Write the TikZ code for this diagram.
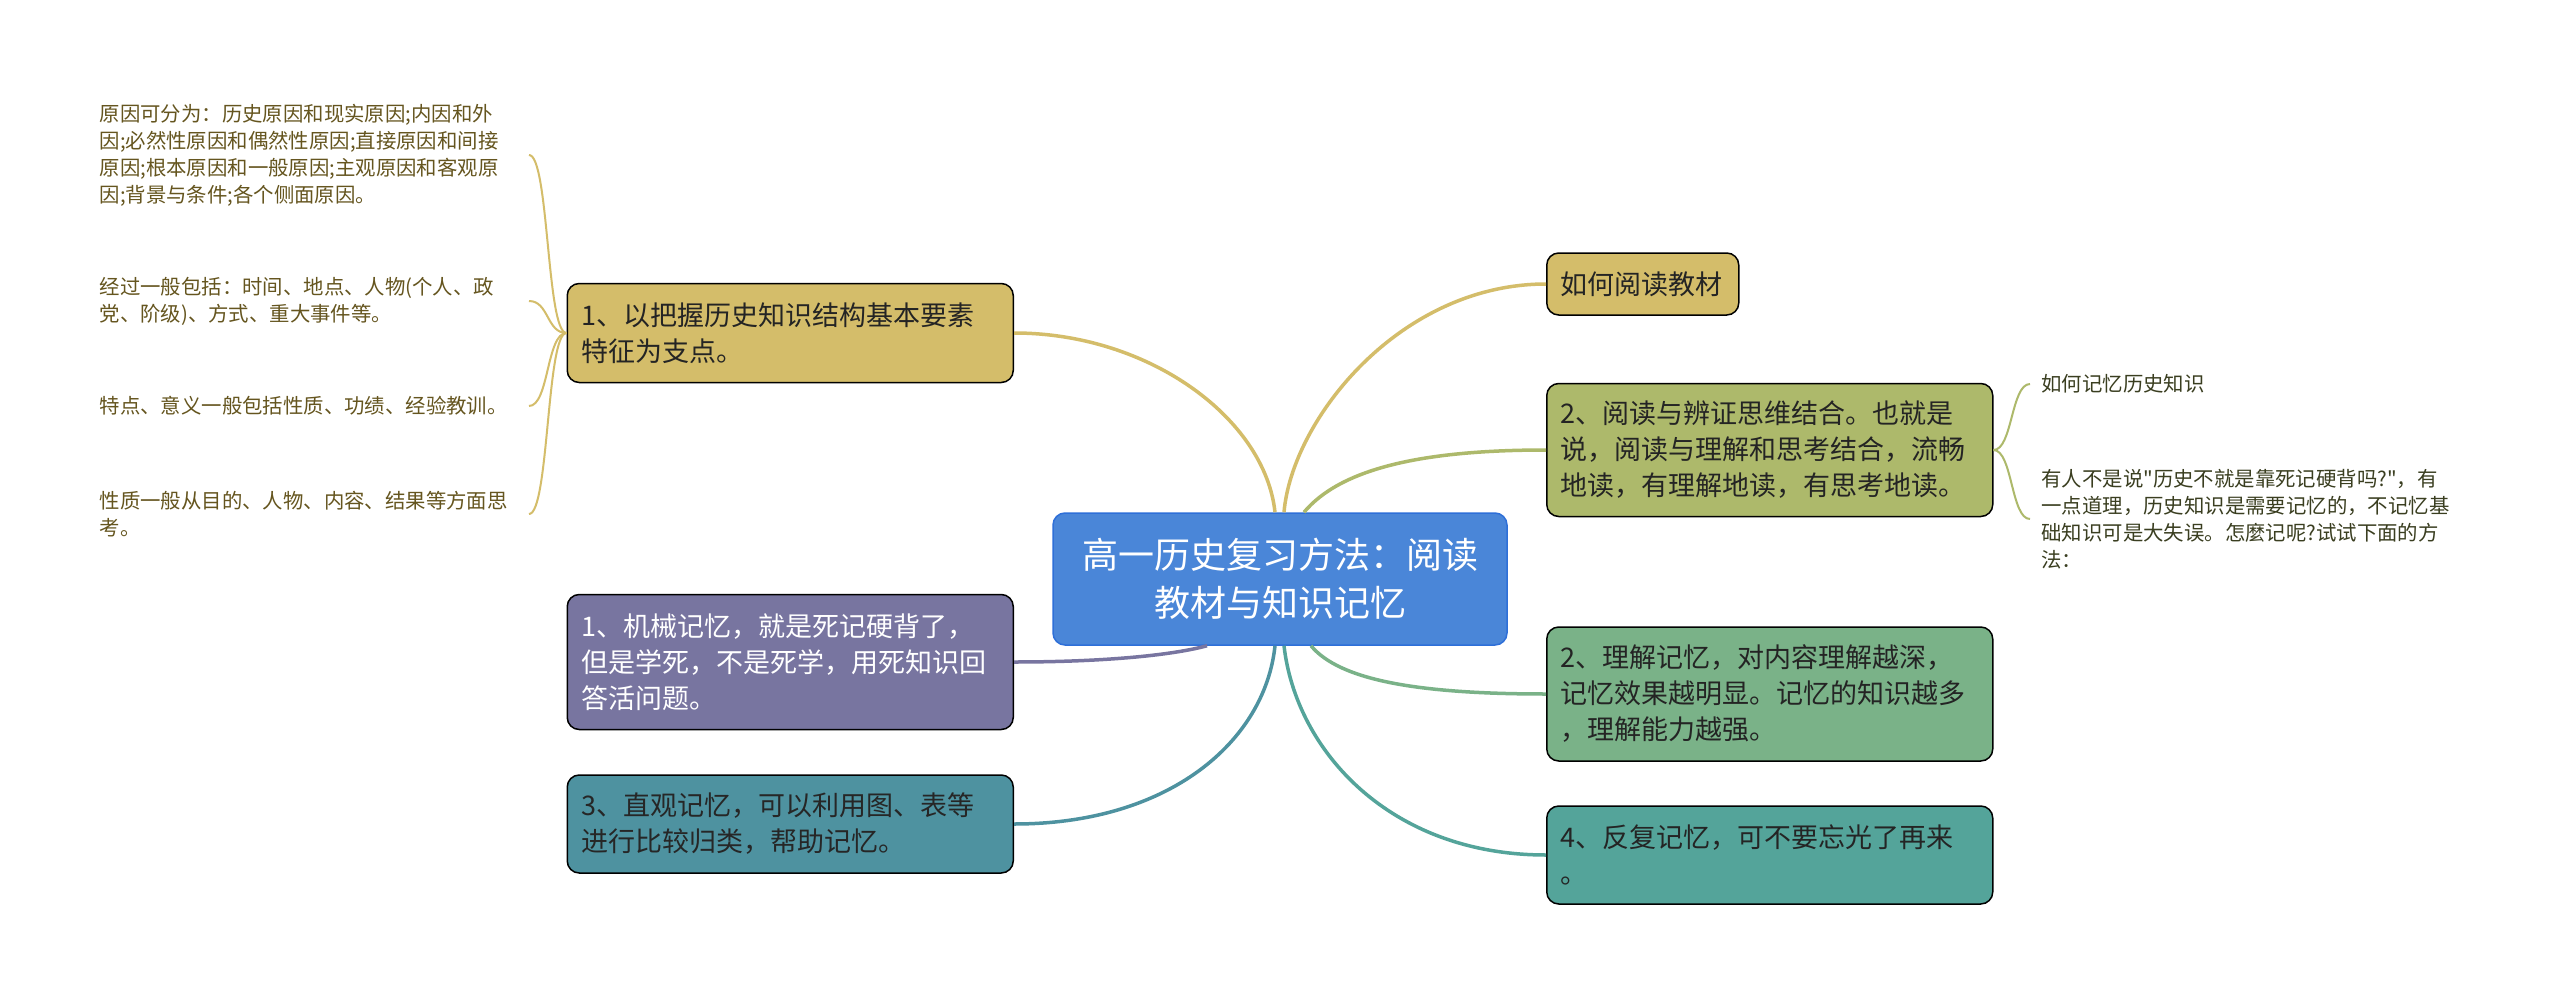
\documentclass[tikz,border=0pt]{standalone}
\usepackage{fontspec}
\setmainfont{Noto Sans CJK SC}[Ligatures=TeXOff]
\usepackage{xcolor}
\usetikzlibrary{positioning,calc}

\definecolor{hubblue}{HTML}{4A86D8}
\definecolor{hubedge}{HTML}{2E6FD8}
\definecolor{sand}{HTML}{D4BD6A}
\definecolor{moss}{HTML}{ADB96B}
\definecolor{plum}{HTML}{7875A0}
\definecolor{sage}{HTML}{7AB288}
\definecolor{seablue}{HTML}{4E92A0}
\definecolor{jade}{HTML}{54A49A}
\definecolor{ink}{HTML}{242424}
\definecolor{leafink}{HTML}{65551F}
\definecolor{twigink}{HTML}{3A3E20}

\tikzset{
  topic/.style={draw=black, line width=0.75pt, rounded corners=6pt, align=left,
    text width=209pt, inner xsep=7pt, font=\fontsize{13.5}{18}\selectfont, text=ink},
  leaf/.style={align=left, text width=209pt, inner xsep=5.5pt,
    font=\fontsize{10.2}{13.5}\selectfont},
  link/.style={line width=1.75pt},
  twig/.style={line width=1pt},
}

\begin{document}
\begin{tikzpicture}[x=0.5pt, y=-0.5pt]
    \path[fill=white, use as bounding box] (0,0) rectangle (2560,995);

    % Central topic
    \node[fill=hubblue, draw=hubedge, line width=0.75pt, rounded corners=6pt, text=white,
      align=center, minimum width=227pt, minimum height=66pt,
      font=\fontsize{18}{24}\selectfont] (hub) at (1280,579)
      {高一历史复习方法：阅读\\教材与知识记忆};

    % Left branches
    \node[topic, fill=sand, anchor=east, minimum height=49.5pt] (grasp) at (1014,333)
      {1、以把握历史知识结构基本要素\\特征为支点。};
    \node[topic, fill=plum, text=white, anchor=east, minimum height=67.5pt] (rote) at (1014,662)
      {1、机械记忆，就是死记硬背了，\\但是学死，不是死学，用死知识回\\答活问题。};
    \node[topic, fill=seablue, text=black!85, anchor=east, minimum height=49pt] (visual) at (1014,824)
      {3、直观记忆，可以利用图、表等\\进行比较归类，帮助记忆。};

    % Right branches
    \node[topic, fill=sand, text width=82pt, anchor=west, minimum height=31pt] (read) at (1546,284)
      {如何阅读教材};
    \node[topic, fill=moss, anchor=west, minimum height=66.5pt] (think) at (1546,450)
      {2、阅读与辨证思维结合。也就是\\说，阅读与理解和思考结合，流畅\\地读，有理解地读，有思考地读。};
    \node[topic, fill=sage, anchor=west, minimum height=67pt] (grok) at (1546,694)
      {2、理解记忆，对内容理解越深，\\记忆效果越明显。记忆的知识越多\\，理解能力越强。};
    \node[topic, fill=jade, anchor=west, minimum height=49pt] (repeat) at (1546,855)
      {4、反复记忆，可不要忘光了再来\\。};

    % Leaves on the left
    \node[leaf, text=leafink, anchor=east] (cause) at (529,155)
      {原因可分为：历史原因和现实原因;内因和外\\因;必然性原因和偶然性原因;直接原因和间接\\原因;根本原因和一般原因;主观原因和客观原\\因;背景与条件;各个侧面原因。};
    \node[leaf, text=leafink, anchor=east] (course) at (529,301)
      {经过一般包括：时间、地点、人物(个人、政\\党、阶级)、方式、重大事件等。};
    \node[leaf, text=leafink, anchor=east] (trait) at (529,406)
      {特点、意义一般包括性质、功绩、经验教训。};
    \node[leaf, text=leafink, anchor=east] (nature) at (529,514)
      {性质一般从目的、人物、内容、结果等方面思\\考。};

    % Leaves on the right
    \node[leaf, text=twigink, anchor=west] (howmem) at (2030,384) {如何记忆历史知识};
    \node[leaf, text=twigink, anchor=west] (saying) at (2030,519)
      {有人不是说"历史不就是靠死记硬背吗?"，有\\一点道理，历史知识是需要记忆的，不记忆基\\础知识可是大失误。怎麼记呢?试试下面的方\\法：};

    % Branch connectors
    \draw[link, sand] (grasp.east) .. controls +(136,0) and +(-10,-93) .. ($(hub.north)+(-5,0)$);
    \draw[link, sand] ($(hub.north)+(4,0)$) .. controls +(8,-93) and +(-146,0) .. (read.west);
    \draw[link, moss] ($(hub.north)+(24,0)$) .. controls +(36,-43) and +(-126,0) .. (think.west);
    \draw[link, plum] ($(hub.south)+(-73,0)$) .. controls +(-37,10) and +(86,0) .. (rote.east);
    \draw[link, seablue] ($(hub.south)+(-5,0)$) .. controls +(-10,95) and +(156,0) .. (visual.east);
    \draw[link, jade] ($(hub.south)+(4,0)$) .. controls +(12,105) and +(-156,0) .. (repeat.west);
    \draw[link, sage] ($(hub.south)+(31,0)$) .. controls +(29,35) and +(-126,0) .. (grok.west);

    % Brackets to leaves
    \draw[twig, sand] (grasp.west) .. controls +(-20,0) and +(20,0) .. (cause.east);
    \draw[twig, sand] (grasp.west) .. controls +(-20,0) and +(20,0) .. (course.east);
    \draw[twig, sand] (grasp.west) .. controls +(-20,0) and +(20,0) .. (trait.east);
    \draw[twig, sand] (grasp.west) .. controls +(-20,0) and +(20,0) .. (nature.east);
    \draw[twig, moss] (think.east) .. controls +(19,0) and +(-19,0) .. (howmem.west);
    \draw[twig, moss] (think.east) .. controls +(19,0) and +(-19,0) .. (saying.west);
\end{tikzpicture}
\end{document}
